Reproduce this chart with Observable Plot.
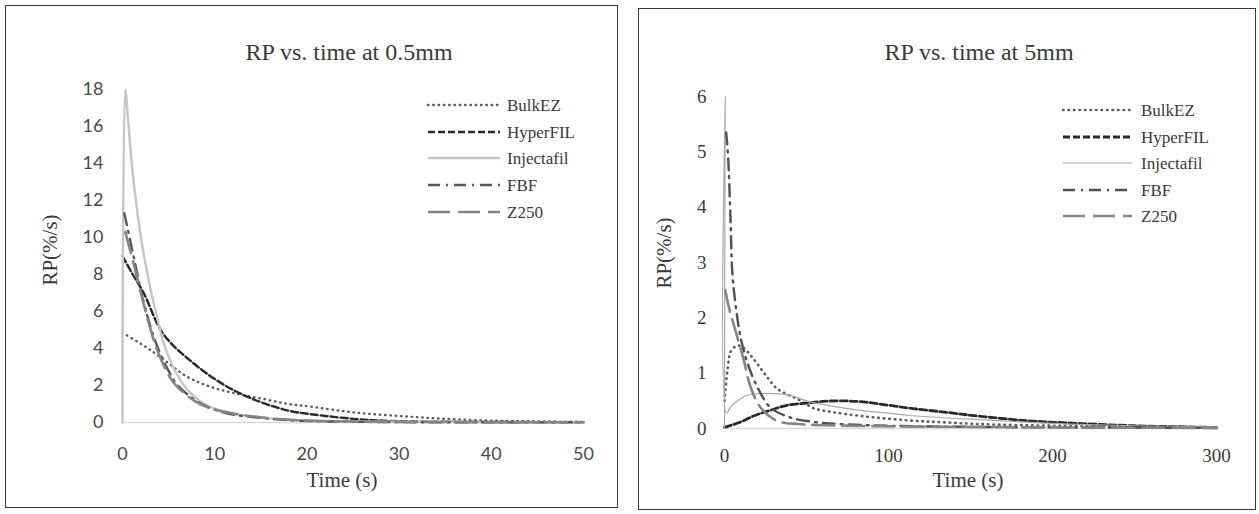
<!DOCTYPE html>
<html><head><meta charset="utf-8">
<script src="https://cdn.jsdelivr.net/npm/d3@7"></script>
<script src="https://cdn.jsdelivr.net/npm/@observablehq/plot@0.6"></script>
<style>
html,body{margin:0;padding:0;background:#fff;}
body{width:1259px;height:514px;overflow:hidden;position:relative;font-family:"Liberation Serif","Times New Roman",serif;}
.panel{position:absolute;border:1.5px solid #3a3a3a;box-sizing:border-box;}
.abs{position:absolute;white-space:nowrap;color:#3a3a3a;line-height:1;font-family:"Liberation Serif","Times New Roman",serif;}
.plotwrap{position:absolute;}
</style></head><body>
<script>
// ---------- DATA (time s, RP %/s) ----------
const seriesNames = ["BulkEZ", "HyperFIL", "Injectafil", "FBF", "Z250"];

// 0.5 mm
const bulkEZ05 = [[0,4.85],[2,4.25],[4,3.58],[7,2.48],[9.5,1.94],[12,1.6],[15,1.3],[18,1.0],[20.4,0.86],[25,0.55],[30,0.35],[35,0.2],[40,0.1],[45,0.06],[50,0.04]];
const hyperFIL05 = [[0,9.0],[1,8.1],[2.3,7.0],[4.4,4.8],[7.7,3.2],[11.3,1.95],[14.9,1.12],[18.2,0.62],[20.4,0.45],[25.5,0.18],[30,0.07],[40,0.03],[50,0.02]];
const injectafil05 = [[0,0],[0.3,18],[0.6,16.4],[1,14.0],[1.5,11.8],[2.1,9.7],[3,7.3],[3.7,5.8],[4.4,4.4],[5.5,3.0],[7,1.8],[9.1,0.95],[11,0.6],[13.1,0.4],[16,0.22],[19,0.13],[25,0.06],[30,0.04],[40,0.02],[50,0.01]];
const fbf05 = [[0.2,11.3],[1.2,9.0],[2.3,6.5],[3.7,4.2],[5.2,2.6],[6,2.0],[8.4,1.05],[11.3,0.5],[15,0.25],[19,0.1],[25,0.04],[30,0.02],[40,0.01],[50,0.01]];
const z250_05 = [[0.3,10.3],[1.2,8.6],[2.3,6.4],[3.7,4.0],[5.2,2.4],[6,1.9],[8.4,1.0],[11.3,0.55],[15,0.28],[19,0.12],[25,0.05],[30,0.03],[40,0.02],[50,0.01]];

// 5 mm
const bulkEZ5 = [[0,0.5],[2,1.1],[4,1.4],[8,1.5],[12,1.45],[16,1.32],[20,1.17],[26,0.93],[32,0.72],[38,0.62],[44,0.54],[50,0.44],[54,0.37],[65,0.3],[85,0.22],[115,0.14],[135,0.11],[156,0.08],[200,0.05],[250,0.03],[300,0.02]];
const hyperFIL5 = [[0,0.02],[10,0.12],[18,0.23],[28,0.33],[38,0.42],[50,0.46],[60,0.49],[72,0.5],[85,0.48],[100,0.42],[115,0.36],[136,0.29],[156,0.22],[185,0.14],[210,0.1],[250,0.05],[300,0.02]];
const injectafil5 = [[0,0],[0.5,6.0],[1.2,0.28],[4,0.4],[8,0.5],[14,0.6],[22,0.63],[30,0.63],[40,0.6],[50,0.5],[60,0.43],[75,0.36],[95,0.29],[115,0.23],[135,0.19],[156,0.16],[180,0.12],[210,0.08],[250,0.05],[300,0.03]];
const fbf5 = [[1,5.35],[2,5.0],[2.6,4.66],[3.7,3.75],[4.7,2.85],[6.7,2.25],[9.8,1.65],[13.8,1.2],[20,0.75],[28,0.38],[40,0.2],[54,0.12],[70,0.08],[100,0.05],[150,0.03],[200,0.02],[250,0.015],[300,0.01]];
const z250_5 = [[0.5,2.5],[3,2.15],[6.7,1.77],[11.8,1.23],[15.9,0.75],[22,0.38],[32,0.14],[45,0.08],[60,0.06],[100,0.04],[150,0.03],[200,0.02],[300,0.01]];

// ticks
const leftXTicks = [0,10,20,30,40,50];
const leftYTicks = [0,2,4,6,8,10,12,14,16,18];
const rightXTicks = [0,100,200,300];
const rightYTicks = [0,1,2,3,4,5,6];

const titles = ["RP vs. time at 0.5mm", "RP vs. time at 5mm"];
const xTitle = "Time (s)";
const yTitle = "RP(%/s)";

// ---------- STYLES ----------
const stylesLeft = {
  BulkEZ:     {stroke:"#5c5c5c", strokeWidth:2.4, strokeDasharray:"0.5,4.8", strokeLinecap:"round"},
  HyperFIL:   {stroke:"#2a2a2a", strokeWidth:2.4, strokeDasharray:"7,3"},
  Injectafil: {stroke:"#c6c6c6", strokeWidth:2.4},
  FBF:        {stroke:"#585858", strokeWidth:2.4, strokeDasharray:"12,6,2,6"},
  Z250:       {stroke:"#858585", strokeWidth:2.6, strokeDasharray:"22,8"}
};
const stylesRight = {
  BulkEZ:     {stroke:"#5c5c5c", strokeWidth:2.6, strokeDasharray:"0.5,5", strokeLinecap:"round"},
  HyperFIL:   {stroke:"#2a2a2a", strokeWidth:2.8, strokeDasharray:"7,3"},
  Injectafil: {stroke:"#a8a8a8", strokeWidth:1.2},
  FBF:        {stroke:"#505050", strokeWidth:2.4, strokeDasharray:"12,6,2,6"},
  Z250:       {stroke:"#858585", strokeWidth:2.6, strokeDasharray:"22,8"}
};

const rows = (pairs) => pairs.map(([t, v]) => ({t, v}));

function chart(cfg) {
  const marks = [Plot.ruleY([0], {stroke:"#d9d9d9", strokeWidth:1.5})];
  seriesNames.forEach((name, i) => {
    marks.push(Plot.line(rows(cfg.series[i]), {x:"t", y:"v", curve:"catmull-rom", ...cfg.styles[name]}));
  });
  return Plot.plot({
    width: cfg.width, height: cfg.height,
    marginLeft: cfg.ml, marginRight: cfg.mr, marginTop: cfg.mt, marginBottom: cfg.mb,
    x: {domain: cfg.xDomain, ticks: cfg.xTicks, tickSize: 0, tickPadding: cfg.xPad, tickFormat: d3.format("d"), label: null},
    y: {domain: cfg.yDomain, ticks: cfg.yTicks, tickSize: 0, tickPadding: cfg.yPad, tickFormat: d3.format("d"), label: null},
    style: {fontFamily: cfg.font, fontSize: cfg.fontSize, color: cfg.tickColor, background: "transparent", overflow: "visible"},
    marks
  });
}

const SERIF = "'Liberation Serif', 'Times New Roman', serif";

function addAbs(text, x, y, size, extra) {
  const d = document.createElement("div");
  d.className = "abs";
  d.textContent = text;
  d.style.fontFamily = SERIF;
  d.style.left = x + "px"; d.style.top = y + "px";
  d.style.fontSize = size + "px";
  d.style.transform = "translate(-50%,-50%)" + (extra || "");
  document.body.appendChild(d);
  return d;
}

function legend(x0, x1, tx, ys, styles) {
  const svgNS = "http://www.w3.org/2000/svg";
  seriesNames.forEach((name, i) => {
    const s = styles[name];
    const svg = document.createElementNS(svgNS, "svg");
    svg.setAttribute("width", x1 - x0 + 4);
    svg.setAttribute("height", 8);
    svg.style.position = "absolute";
    svg.style.left = (x0 - 2) + "px";
    svg.style.top = (ys[i] - 4) + "px";
    const ln = document.createElementNS(svgNS, "line");
    ln.setAttribute("x1", 2); ln.setAttribute("x2", x1 - x0 + 2);
    ln.setAttribute("y1", 4); ln.setAttribute("y2", 4);
    ln.setAttribute("stroke", s.stroke);
    ln.setAttribute("stroke-width", s.strokeWidth);
    if (s.strokeDasharray) ln.setAttribute("stroke-dasharray", s.strokeDasharray);
    if (s.strokeLinecap) ln.setAttribute("stroke-linecap", s.strokeLinecap);
    svg.appendChild(ln);
    document.body.appendChild(svg);
    const d = document.createElement("div");
    d.className = "abs";
    d.textContent = name;
    d.style.fontFamily = SERIF;
    d.style.left = tx + "px"; d.style.top = ys[i] + "px";
    d.style.fontSize = "17px";
    d.style.transform = "translate(0,-50%)";
    document.body.appendChild(d);
  });
}

function panel(l, t, w, h) {
  const p = document.createElement("div");
  p.className = "panel";
  p.style.left = l + "px"; p.style.top = t + "px";
  p.style.width = w + "px"; p.style.height = h + "px";
  document.body.appendChild(p);
}
panel(5, 5, 613, 503);
panel(638, 8, 618, 502);

// left chart
const left = chart({
  width: 613, height: 503, ml: 117, mr: 35, mt: 84, mb: 86,
  xDomain: [0, 50], yDomain: [0, 18], xTicks: leftXTicks, yTicks: leftYTicks,
  xPad: 25, yPad: 19, font: "Lato, 'Open Sans', sans-serif", fontSize: "18px", tickColor: "#4a4a4a",
  series: [bulkEZ05, hyperFIL05, injectafil05, fbf05, z250_05], styles: stylesLeft
});
const lw = document.createElement("div"); lw.className = "plotwrap"; lw.style.left = "5px"; lw.style.top = "5px";
lw.appendChild(left); document.body.appendChild(lw);

// right chart
const right = chart({
  width: 618, height: 502, ml: 86, mr: 40, mt: 88, mb: 82,
  xDomain: [0, 300], yDomain: [0, 6], xTicks: rightXTicks, yTicks: rightYTicks,
  xPad: 20, yPad: 18, font: SERIF, fontSize: "19px", tickColor: "#3a3a3a",
  series: [bulkEZ5, hyperFIL5, injectafil5, fbf5, z250_5], styles: stylesRight
});
const rw = document.createElement("div"); rw.className = "plotwrap"; rw.style.left = "638px"; rw.style.top = "8px";
rw.appendChild(right); document.body.appendChild(rw);

// titles & axis titles
addAbs(titles[0], 349, 52, 24);
addAbs(titles[1], 979, 52, 24);
addAbs(xTitle, 342, 480, 21);
addAbs(xTitle, 968, 480, 21);
addAbs(yTitle, 50, 250, 21, " rotate(-90deg)");
addAbs(yTitle, 664, 253, 21, " rotate(-90deg)");

// legends
legend(428, 500, 507, [105, 132, 158, 185, 212], stylesLeft);
legend(1063, 1132, 1141, [110, 136.5, 163, 189.5, 216], stylesRight);
</script>
</body></html>
